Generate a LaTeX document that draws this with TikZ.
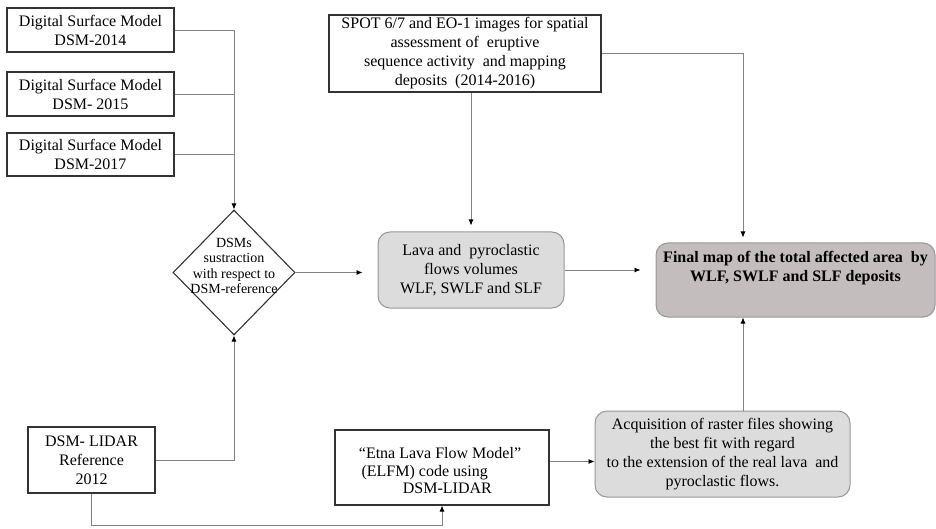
\documentclass[tikz,border=0pt]{standalone}
\usepackage{fontspec}
\setmainfont{Liberation Serif}
\usetikzlibrary{arrows.meta,shapes.geometric,calc}
\definecolor{linegray}{RGB}{130,130,130}
\definecolor{boxgray}{RGB}{221,220,220}
\definecolor{finalgray}{RGB}{196,189,189}
\definecolor{rimgray}{RGB}{150,150,150}
\tikzset{
  plainbox/.style={draw=black!80, line width=1.1pt, rectangle, inner sep=2pt, align=center,
    font=\fontsize{16}{19}\selectfont},
  softbox/.style={draw=rimgray, line width=1pt, rounded corners=12pt, fill=boxgray,
    inner sep=2pt, align=center, font=\fontsize{16}{19}\selectfont},
  link/.style={draw=linegray, line width=0.8pt},
  arrowlink/.style={link, -{Latex[length=6pt,width=5pt,color=black]}},
}
\begin{document}
\begin{tikzpicture}[x=1pt, y=-1pt]
\useasboundingbox (0,0) rectangle (936,529);

% source surface models
\node[plainbox, minimum width=167pt, minimum height=44pt] (d14) at (90.5,30) {Digital Surface Model\\DSM-2014};
\node[plainbox, minimum width=167pt, minimum height=44pt] (d15) at (90.5,94) {Digital Surface Model\\DSM- 2015};
\node[plainbox, minimum width=167pt, minimum height=43pt] (d17) at (90.5,154.5) {Digital Surface Model\\DSM-2017};
\node[plainbox, minimum width=127pt, minimum height=66pt] (lidar) at (91.5,460) {DSM- LIDAR\\Reference\\2012};

% satellite imagery
\node[plainbox, minimum width=272pt, minimum height=77pt] (spot) at (465,53.5)
  {SPOT 6/7 and EO-1 images for spatial\\assessment of \ eruptive\\sequence activity \ and mapping\\deposits \ (2014-2016)};

% subtraction step
\node[draw=black!80, line width=1.1pt, diamond, minimum width=122pt, minimum height=125pt, inner sep=0pt] (sub) at (234,272.5) {};
\node[align=center, font=\fontsize{14}{15.5}\selectfont] (subtext) at (234,266) {DSMs\\sustraction\\with respect to\\DSM-reference};

% volumes and final map
\node[softbox, minimum width=186pt, minimum height=76pt] (lava) at (471,270) {Lava and \ pyroclastic\\flows volumes\\WLF, SWLF and SLF};
\node[softbox, fill=finalgray, minimum width=279pt, minimum height=74pt] (final) at (795.5,280) {};
\node[align=center, font=\bfseries\fontsize{16}{19}\selectfont] (finaltext) at (795.5,268)
  {Final map of the total affected area \ by\\WLF, SWLF and SLF deposits};

% lava flow model branch
\node[plainbox, minimum width=214pt, minimum height=75pt] (elfm) at (442,467.5) {};
\node[align=left, font=\fontsize{16}{17.5}\selectfont] (elfmtext) at (440,471)
  {``Etna Lava Flow Model''\\\,(ELFM) code using\\\hspace*{44pt}DSM-LIDAR};
\node[softbox, minimum width=255pt, minimum height=86pt] (acq) at (722.5,454)
  {Acquisition of raster files showing\\the best fit with regard\\to the extension of the real lava \ and\\pyroclastic flows.};

% helper coordinates for the shared routes
\coordinate (fx) at (743,0);
\coordinate (low) at (0,525);
\coordinate (ey) at ([yshift=6pt]elfm.east);

% connectors
\draw[arrowlink] (d14.east) -| (sub.north);
\draw[link] (d15.east) -- (d15.east -| sub.north);
\draw[link] (d17.east) -- (d17.east -| sub.north);
\draw[arrowlink] (lidar.east) -| (sub.south);
\draw[arrowlink, shorten >=15pt] (sub.east) -- (lava.west |- sub.east);
\draw[arrowlink, shorten >=6pt] (spot.south -| lava.north) -- (lava.north);
\draw[arrowlink, shorten >=5pt] (spot.east) -| (fx |- final.north);
\draw[arrowlink, shorten >=15pt] (lava.east) -- (final.west |- lava.east);
\draw[arrowlink] (lidar.south) -- (lidar.south |- low) -| (elfm.south);
\draw[arrowlink] (ey) -- (acq.west |- ey);
\draw[arrowlink] (fx |- acq.north) -- (fx |- final.south);
\end{tikzpicture}
\end{document}
